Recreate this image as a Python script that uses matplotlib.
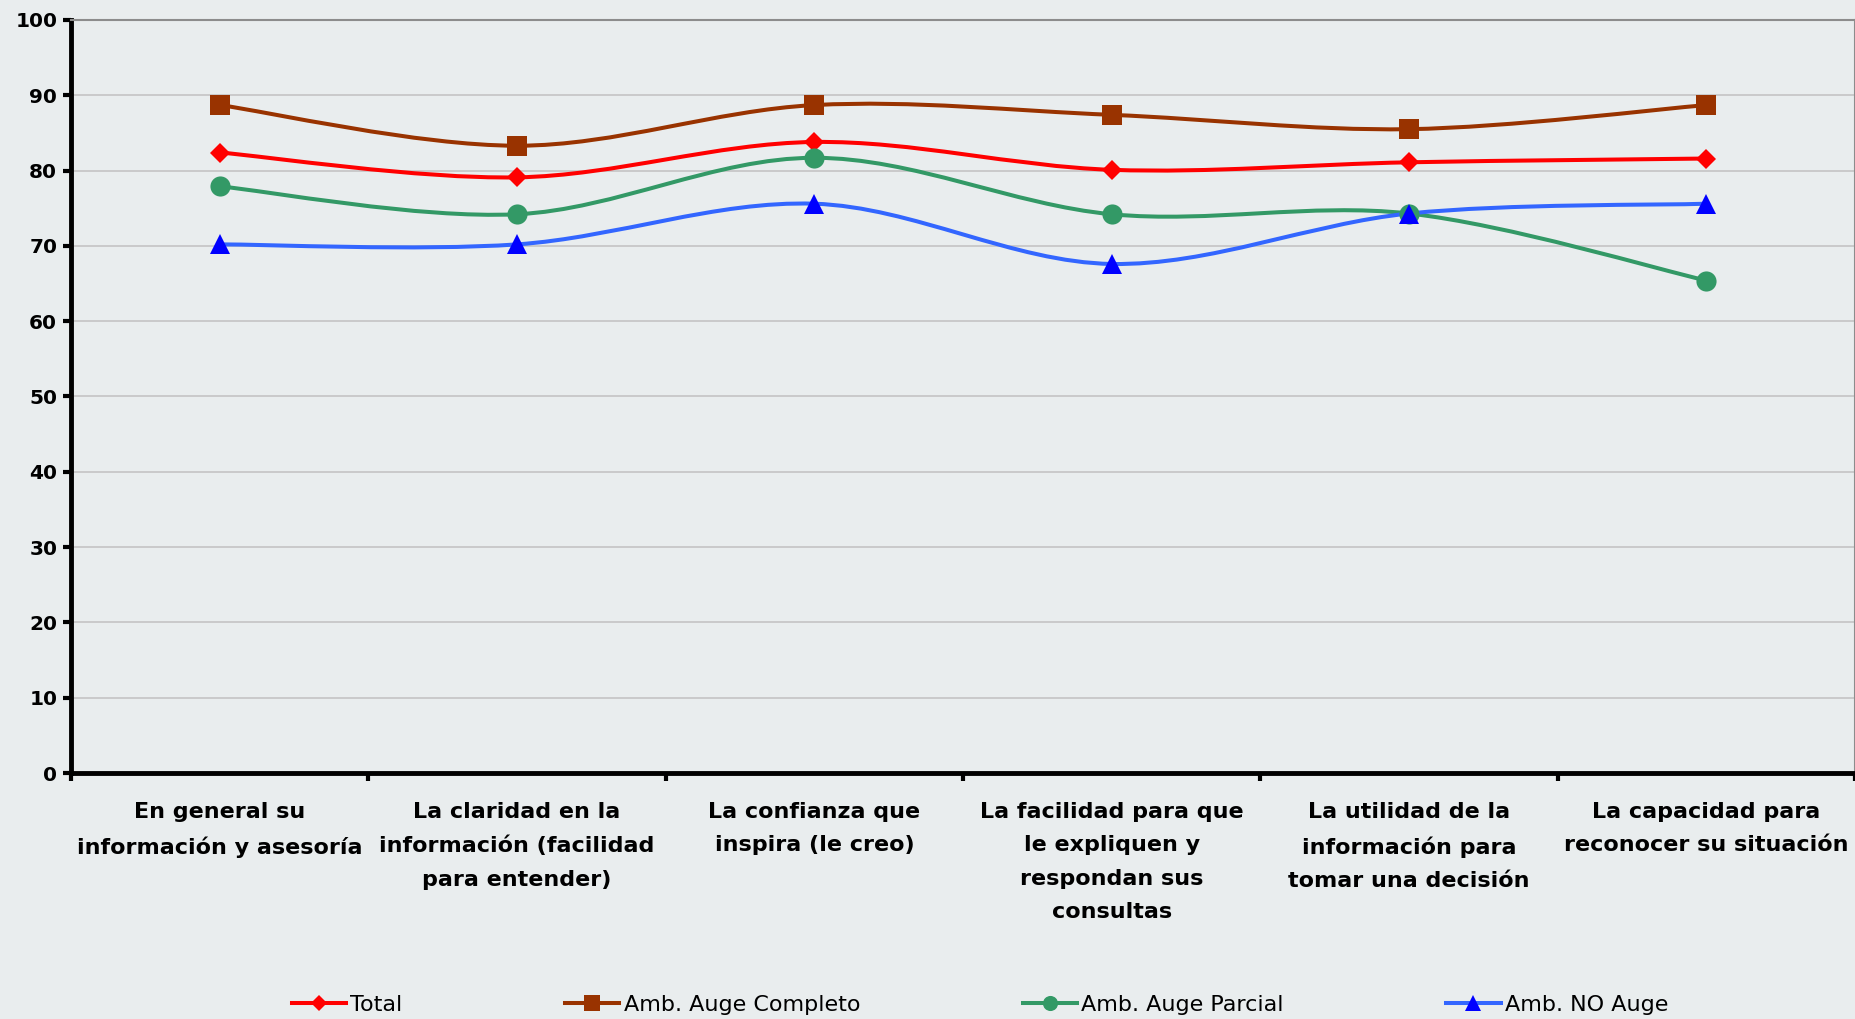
import numpy as np
import matplotlib
matplotlib.use("Agg")
import matplotlib.pyplot as plt
from matplotlib.path import Path
from matplotlib.patches import PathPatch
from matplotlib.lines import Line2D

# Datos
categorias = [
    "En general su\ninformación y asesoría",
    "La claridad en la\ninformación (facilidad\npara entender)",
    "La confianza que\ninspira (le creo)",
    "La facilidad para que\nle expliquen y\nrespondan sus\nconsultas",
    "La utilidad de la\ninformación para\ntomar una decisión",
    "La capacidad para\nreconocer su situación",
]
total = [82.4, 79.1, 83.8, 80.1, 81.1, 81.6]
auge_completo = [88.7, 83.3, 88.7, 87.4, 85.5, 88.7]
auge_parcial = [77.9, 74.2, 81.7, 74.2, 74.3, 65.4]
no_auge = [70.2, 70.2, 75.6, 67.6, 74.3, 75.6]

nombres = ["Total", "Amb. Auge Completo", "Amb. Auge Parcial", "Amb. NO Auge"]
series = [total, auge_completo, auge_parcial, no_auge]
col_linea = ["#FF0000", "#993300", "#339966", "#3366FF"]
col_marca = ["#FF0000", "#993300", "#339966", "#0000FF"]
marcas = ["D", "s", "o", "^"]
tam = [10.5, 14.5, 14.5, 15]

fondo = "#E9EDEE"


def curva_suave(x, y):
    # curva tipo Excel (Catmull-Rom pasada a Bezier cubica)
    p = np.column_stack([x, y]).astype(float)
    ext = np.vstack([p[0], p, p[-1]])
    verts = [p[0]]
    codes = [Path.MOVETO]
    for i in range(1, len(ext) - 2):
        p0, p1, p2, p3 = ext[i - 1], ext[i], ext[i + 1], ext[i + 2]
        c1 = p1 + (p2 - p0) / 6.0
        c2 = p2 - (p3 - p1) / 6.0
        verts += [c1, c2, p2]
        codes += [Path.CURVE4] * 3
    return Path(verts, codes)


fig = plt.figure(figsize=(18.56, 10.19), dpi=100, facecolor=fondo)
ax = fig.add_axes([0.0383, 0.2414, 0.9612, 0.739])
ax.set_facecolor(fondo)

x = np.arange(len(categorias))
for y, cl, cm, m, s in zip(series, col_linea, col_marca, marcas, tam):
    ax.add_patch(PathPatch(curva_suave(x, y), facecolor="none", edgecolor=cl,
                           lw=2.9, zorder=3, capstyle="round", joinstyle="round"))
    ax.plot(x, y, ls="none", marker=m, ms=s, color=cm, mec=cm, mew=0, zorder=4)

ax.set_xlim(-0.5, len(categorias) - 0.5)
ax.set_ylim(0, 100)
ax.set_yticks(range(0, 101, 10))
ax.yaxis.grid(True, color="#C4C4C4", lw=1.2)
ax.set_axisbelow(True)

ax.set_xticks(x)
ax.set_xticklabels(categorias, fontsize=16, fontweight="bold", linespacing=1.83, va="top")
ax.set_xticks(np.arange(-0.5, len(categorias)), minor=True)
ax.tick_params(axis="x", which="major", length=0, pad=21)
ax.tick_params(axis="x", which="minor", length=6, width=3, color="black")
ax.tick_params(axis="y", length=6, width=3, pad=4, labelsize=14.5)
for lab in ax.get_yticklabels():
    lab.set_fontweight("bold")

for lado in ["left", "bottom"]:
    ax.spines[lado].set_linewidth(3.5)
    ax.spines[lado].set_color("black")
for lado in ["top", "right"]:
    ax.spines[lado].set_linewidth(1.5)
    ax.spines[lado].set_color("#8C8C8C")

handles = [Line2D([], [], color=cl, lw=2.9, marker=m, ms=s * 0.75, mfc=cm, mec=cm, mew=0)
           for cl, cm, m, s in zip(col_linea, col_marca, marcas, tam)]
fig.legend(handles, nombres, loc="center", bbox_to_anchor=(0.528, 0.0137), ncol=4,
           frameon=False, fontsize=16, handlelength=2.45, handletextpad=0.2,
           columnspacing=7.3)

fig.savefig("out.png", dpi=100, facecolor=fondo)
